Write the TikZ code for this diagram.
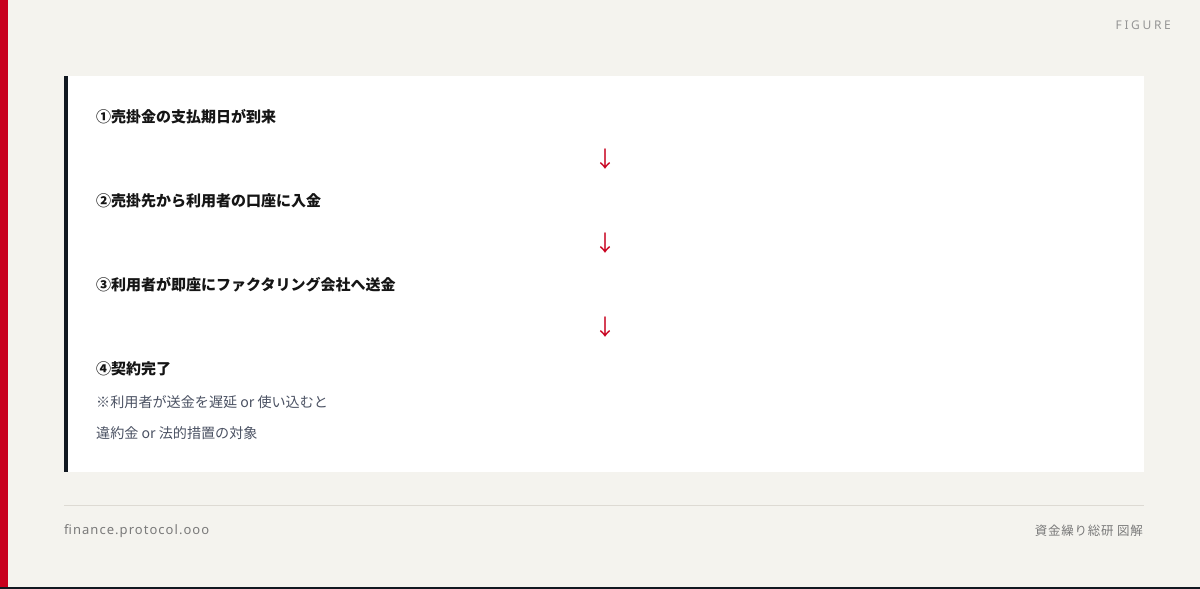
\documentclass[tikz,border=0pt]{standalone}
\usepackage{fontspec}
\newfontfamily\jp{Noto Sans CJK JP}
\newfontfamily\lat{Noto Sans}
\definecolor{bg}{HTML}{F4F3EE}
\definecolor{redbar}{HTML}{C8001E}
\definecolor{darkbar}{HTML}{111820}
\definecolor{steptext}{HTML}{151515}
\definecolor{notetext}{HTML}{4B5263}
\definecolor{footgray}{HTML}{7A7A7A}
\definecolor{figgray}{HTML}{959595}
\definecolor{rule}{HTML}{DDDAD3}
\tikzset{
  steplabel/.style={anchor=west, inner sep=0pt, text=steptext, font=\jp\bfseries\fontsize{15}{18}\selectfont},
  notelabel/.style={anchor=west, inner sep=0pt, text=notetext, font=\jp\fontsize{14.1}{17}\selectfont},
  downarrow/.style={inner sep=0pt, text=redbar, font=\jp\fontsize{22}{24}\selectfont},
}
\begin{document}
\begin{tikzpicture}[x=1pt,y=-1pt]
\useasboundingbox (0,0) rectangle (1200,589);
\fill[bg] (0,0) rectangle (1200,589);
\fill[redbar] (0,0) rectangle (8,589);
\fill[darkbar] (0,587) rectangle (1200,589);
% panel
\fill[white] (64,76) rectangle (1144,472);
\fill[darkbar] (64,76) rectangle (68,472);
% header
\node[anchor=east, inner sep=0pt, text=figgray, font=\lat\bfseries\fontsize{12}{14}\selectfont\addfontfeature{LetterSpace=22}] (fig) at (1171,25) {FIGURE};
% steps
\node[steplabel] (s1) at (96,117) {①売掛金の支払期日が到来};
\node[downarrow] (a1) at (605,159) {↓};
\node[steplabel] (s2) at (96,201) {②売掛先から利用者の口座に入金};
\node[downarrow] (a2) at (605,243) {↓};
\node[steplabel] (s3) at (96,285) {③利用者が即座にファクタリング会社へ送金};
\node[downarrow] (a3) at (605,327) {↓};
\node[steplabel] (s4) at (96,369) {④契約完了};
\node[notelabel] (n1) at (96,402) {※利用者が送金を遅延 or 使い込むと};
\node[notelabel] (n2) at (96,433) {違約金 or 法的措置の対象};
% footer
\draw[rule, line width=1pt] (64,505.5) -- (1144,505.5);
\node[anchor=west, inner sep=0pt, text=footgray, font=\lat\fontsize{13}{15}\selectfont\addfontfeature{LetterSpace=8}] (f1) at (64,531) {finance.protocol.ooo};
\node[anchor=east, inner sep=0pt, text=footgray, font=\jp\fontsize{12.5}{15}\selectfont\addfontfeature{LetterSpace=6}] (f2) at (1143,531) {資金繰り総研 図解};
\end{tikzpicture}
\end{document}
